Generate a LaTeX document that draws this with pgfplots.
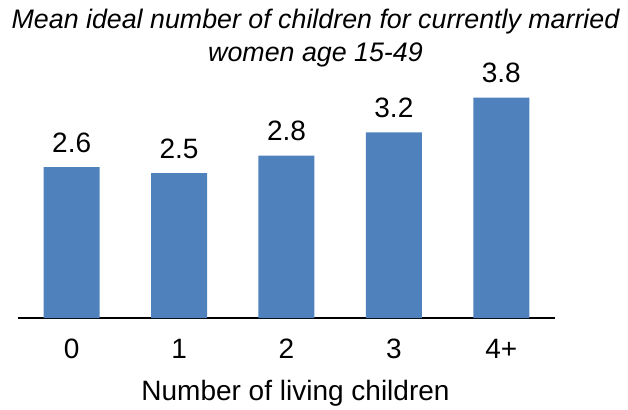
\documentclass[border=0pt]{standalone}
\usepackage{pgfplots}
\pgfplotsset{compat=1.18}
\usepackage{fontspec}
\setmainfont{Liberation Sans}
\definecolor{barblue}{RGB}{79,129,189}
\begin{document}
\begin{tikzpicture}
\begin{axis}[
  at={(9pt,45.5pt)}, anchor=south west,
  scale only axis, width=268.5pt, height=116pt,
  xmin=-0.5, xmax=4.5, ymin=0, ymax=4,
  axis x line=bottom, axis y line=none,
  axis line style={-, black, line width=0.8pt},
  xtick=data, xticklabels={0,1,2,3,4+},
  major tick length=0pt,
  ytick=\empty,
  tick label style={font=\fontsize{14}{16}\selectfont, inner sep=0pt, anchor=north, yshift=-10.5pt},
  /pgf/number format/assume math mode=true,
  xlabel={Number of living children},
  xlabel style={font=\fontsize{14}{16}\selectfont, at={(axis description cs:0.5,0)}, anchor=center, yshift=-37.5pt, xshift=4.5pt},
  ybar, bar width=28pt,
  nodes near coords,
  nodes near coords style={font=\fontsize{14}{16}\selectfont, inner sep=0pt, anchor=south, yshift=7pt, /pgf/number format/fixed, /pgf/number format/precision=1, /pgf/number format/fixed zerofill},
  clip=false,
]
\addplot[fill=barblue, draw=none] coordinates {(0,2.6) (1,2.5) (2,2.8) (3,3.2) (4,3.8)};
\end{axis}
\node[font=\fontsize{13.4}{16}\selectfont\itshape, anchor=center] at (157.75pt,193.5pt) {Mean ideal number of children for currently married};
\node[font=\fontsize{13.4}{16}\selectfont\itshape, anchor=center] at (157.75pt,177pt) {women age 15-49};
\pgfresetboundingbox
\useasboundingbox (0,0) rectangle (314pt,204.5pt);
\end{tikzpicture}
\end{document}
